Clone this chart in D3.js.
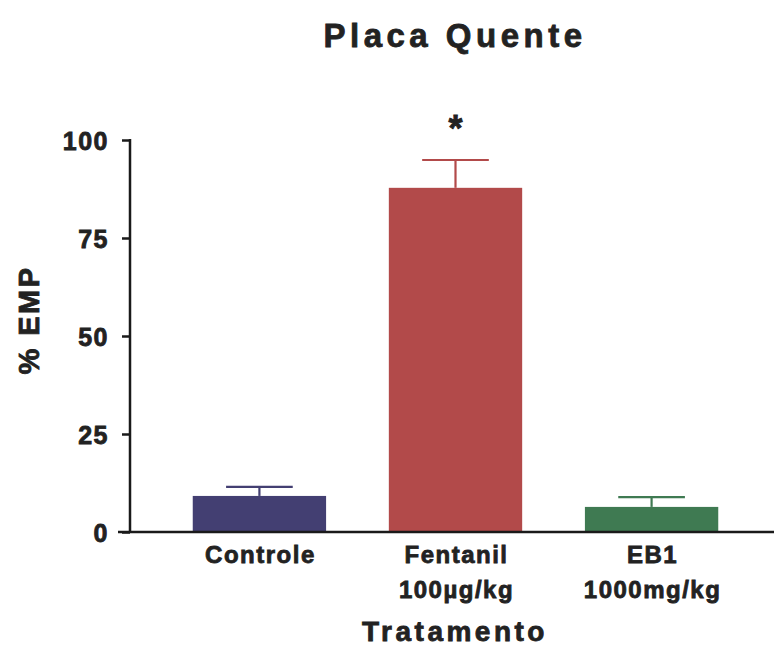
<!DOCTYPE html>
<html>
<head>
<meta charset="utf-8">
<script src="https://cdn.jsdelivr.net/npm/d3@7"></script>
<style>
  body { margin: 0; background: #fff; }
  text { font-family: "Liberation Sans", Arial, sans-serif; font-weight: bold; fill: #222; stroke: #222; stroke-width: 0.8px; }
</style>
</head>
<body>
<svg id="chart" width="774" height="648"></svg>
<script>
var groups = ["Controle", "Fentanil", "EB1"];
var groupLines = [["Controle"], ["Fentanil", "100\u00b5g/kg"], ["EB1", "1000mg/kg"]];
var means = [9.2, 87.8, 6.4];
var errors = [2.3, 7.1, 2.5];
var colors = ["#433f72", "#b24a4a", "#3f7a52"];
var yTicks = [0, 25, 50, 75, 100];
var starred = ["Fentanil"];

var svg = d3.select("#chart");

var y = d3.scaleLinear().domain([0, 100]).range([532, 140]);
var x = d3.scaleBand().domain(groups).range([130, 781]).paddingInner(0.32).paddingOuter(0.32);

// bars
svg.selectAll("rect.bar")
    .data(groups)
    .enter().append("rect")
    .attr("class", "bar")
    .attr("x", function(d) { return x(d); })
    .attr("width", x.bandwidth())
    .attr("y", function(d, i) { return y(means[i]); })
    .attr("height", function(d, i) { return y(0) - y(means[i]); })
    .attr("fill", function(d, i) { return colors[i]; });

// error bars (upper only)
var err = svg.selectAll("g.err")
    .data(groups)
    .enter().append("g")
    .attr("class", "err")
    .attr("stroke", function(d, i) { return colors[i]; })
    .attr("stroke-width", 2.2);

err.append("line")
    .attr("x1", function(d) { return x(d) + x.bandwidth() / 2; })
    .attr("x2", function(d) { return x(d) + x.bandwidth() / 2; })
    .attr("y1", function(d, i) { return y(means[i]); })
    .attr("y2", function(d, i) { return y(means[i] + errors[i]); });

err.append("line")
    .attr("x1", function(d) { return x(d) + x.bandwidth() * 0.25; })
    .attr("x2", function(d) { return x(d) + x.bandwidth() * 0.75; })
    .attr("y1", function(d, i) { return y(means[i] + errors[i]); })
    .attr("y2", function(d, i) { return y(means[i] + errors[i]); });

// y axis
var yAxis = svg.append("g")
    .attr("transform", "translate(130,0)")
    .call(d3.axisLeft(y).tickValues(yTicks).tickSize(8).tickPadding(13));
yAxis.select(".domain").remove();
yAxis.selectAll(".tick line").attr("stroke", "#1a1a1a").attr("stroke-width", 2.5);
yAxis.selectAll(".tick text")
    .style("font-size", "25px")
    .style("letter-spacing", "1.5px")
    .style("font-family", "Liberation Sans, Arial, sans-serif")
    .style("font-weight", "bold")
    .attr("fill", "#222")
    .attr("dy", "0.36em");

svg.append("line")
    .attr("x1", 130).attr("x2", 130)
    .attr("y1", y(100) - 1).attr("y2", y(0))
    .attr("stroke", "#1a1a1a").attr("stroke-width", 2.5);

// x axis line
svg.append("line")
    .attr("x1", 118).attr("x2", 774)
    .attr("y1", y(0)).attr("y2", y(0))
    .attr("stroke", "#1a1a1a").attr("stroke-width", 2.5);

// category labels
var labels = svg.selectAll("text.cat")
    .data(groups)
    .enter().append("text")
    .attr("class", "cat")
    .attr("text-anchor", "middle")
    .style("font-size", "24px")
    .style("letter-spacing", "1.5px")
    .attr("transform", function(d) { return "translate(" + (x(d) + x.bandwidth() / 2 + 1) + ",563)"; });

labels.selectAll("tspan")
    .data(function(d, i) { return groupLines[i]; })
    .enter().append("tspan")
    .attr("x", 0)
    .attr("dy", function(d, i) { return i === 0 ? 0 : 35; })
    .text(function(d) { return d; });

// significance marker
svg.selectAll("text.star")
    .data(starred)
    .enter().append("text")
    .attr("class", "star")
    .attr("text-anchor", "middle")
    .attr("x", function(d) { return x(d) + x.bandwidth() / 2; })
    .attr("y", 141)
    .style("font-size", "36px")
    .text("*");

// titles
svg.append("text")
    .attr("x", 455).attr("y", 47)
    .attr("text-anchor", "middle")
    .style("font-size", "33px")
    .style("letter-spacing", "4.5px")
    .text("Placa Quente");

svg.append("text")
    .attr("x", 455).attr("y", 641)
    .attr("text-anchor", "middle")
    .style("font-size", "28px")
    .style("letter-spacing", "3.5px")
    .text("Tratamento");

svg.append("text")
    .attr("transform", "translate(39,320) rotate(-90)")
    .attr("text-anchor", "middle")
    .style("font-size", "29px")
    .style("letter-spacing", "2.5px")
    .text("% EMP");
</script>
</body>
</html>
